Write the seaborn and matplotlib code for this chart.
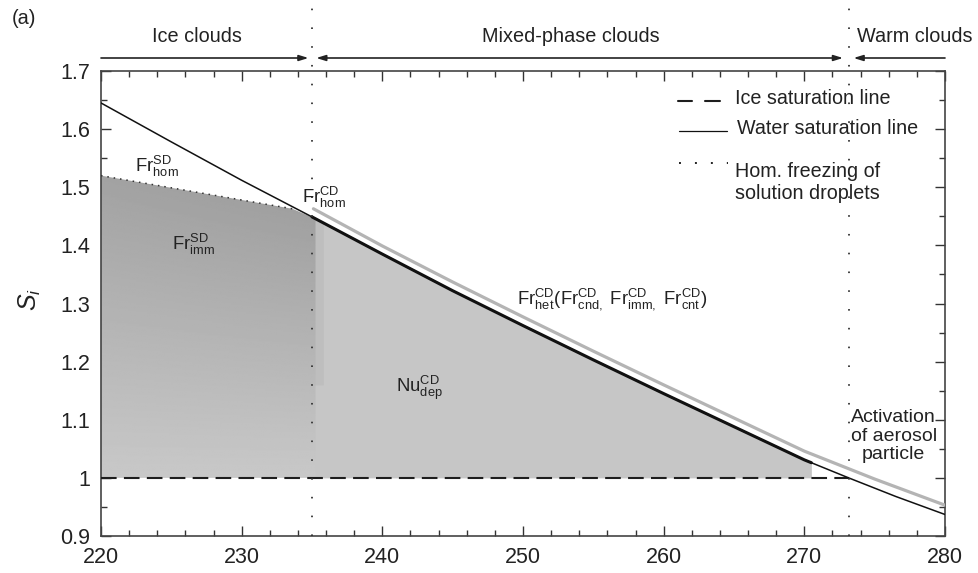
import numpy as np
import pandas as pd
import matplotlib
matplotlib.use("Agg")
import matplotlib.pyplot as plt
import seaborn as sns
from matplotlib.ticker import MultipleLocator, FuncFormatter
from matplotlib.patches import Polygon
from matplotlib.lines import Line2D

# ---------------- data ----------------
temp_water = [220, 225, 230, 235, 240, 245, 250, 255, 260, 265, 270, 273.15, 276.5, 280]
si_water = [1.645, 1.578, 1.512, 1.449, 1.385, 1.322, 1.262, 1.203, 1.145, 1.088, 1.031, 1.0, 0.968, 0.937]

temp_het = [235.1, 240, 245, 250, 255, 260, 265, 270, 275, 280]
si_het = [1.463, 1.399, 1.337, 1.277, 1.218, 1.160, 1.103, 1.046, 0.998, 0.953]

temp_hom = [220, 233.6]
si_hom = [1.52, 1.463]

temp_ice = [220, 273.15]
si_ice = [1.0, 1.0]

regime_bounds = [235, 273.15]
mixed_end = 270.5
regime_names = ["Ice clouds", "Mixed-phase clouds", "Warm clouds"]

x_ticks = [220, 230, 240, 250, 260, 270, 280]
y_ticks = [0.9, 1.0, 1.1, 1.2, 1.3, 1.4, 1.5, 1.6, 1.7]

legend_labels = ["Ice saturation line", "Water saturation line", "Hom. freezing of\nsolution droplets"]

# ---------------- style ----------------
sns.set_style("ticks")
plt.rcParams["font.family"] = ["Liberation Sans", "DejaVu Sans"]
plt.rcParams["mathtext.fontset"] = "custom"
plt.rcParams["mathtext.rm"] = "Liberation Sans"
plt.rcParams["mathtext.it"] = "Liberation Sans:italic"
plt.rcParams["mathtext.bf"] = "Liberation Sans:bold"

W, H = 979, 573
fig = plt.figure(figsize=(W / 100, H / 100), dpi=100)
L, R, T, B = 101, 945, 71, 536
ax = fig.add_axes([L / W, 1 - B / H, (R - L) / W, (B - T) / H])

ax.set_xlim(220, 280)
ax.set_ylim(0.9, 1.7)

# ---------------- shaded regions ----------------
mx = [regime_bounds[0]] + [t for t in temp_water if regime_bounds[0] < t < mixed_end] + [mixed_end]
my = list(np.interp(mx, temp_water, si_water))
ax.fill_between(mx, [1.0] * len(mx), my, color="#c6c6c6", lw=0, zorder=1)

xr = regime_bounds[0] + 0.25
wr = float(np.interp(xr, temp_water, si_water))
ice_poly = [(temp_ice[0], 1.0), (temp_hom[0], si_hom[0]), (temp_hom[1], si_hom[1]),
            (xr, wr), (xr, 1.0)]
poly = Polygon(ice_poly, closed=True, facecolor="none", edgecolor="none")
ax.add_patch(poly)
ny, nx = 200, 100
yy = np.linspace(1.52, 1.0, ny)[:, None]
xx = np.linspace(220, xr, nx)[None, :]
tv = (yy - 1.0) / 0.52
xv = (xx - 220) / 15.0
grad = 0.785 - 0.15 * tv - 0.03 * tv * xv
img = ax.imshow(grad, extent=[220, xr, 1.0, 1.52], cmap="gray", vmin=0, vmax=1,
                aspect="auto", origin="upper", zorder=1.2, interpolation="bilinear")
img.set_clip_path(poly)

# slight darker transition strip at the boundary
sx = [regime_bounds[0], regime_bounds[0] + 0.8]
sy = list(np.interp(sx, temp_water, si_water))
ax.fill_between(sx, [1.16, 1.16], sy, color="#bebebe", lw=0, zorder=1.1)

ax.set_xlim(220, 280)
ax.set_ylim(0.9, 1.7)

# ---------------- lines ----------------
sns.lineplot(x=temp_ice, y=si_ice, ax=ax, color="#1e1e1e", lw=1.5,
             linestyle=(0, (7.5, 3.5)), zorder=3)
sns.lineplot(x=temp_het, y=si_het, ax=ax, color="#b4b4b4", lw=2.3, zorder=3, sort=False)
sns.lineplot(x=temp_water, y=si_water, ax=ax, color="#111111", lw=1.1, zorder=4, sort=False)
thick_x = [regime_bounds[0]] + [t for t in temp_water if regime_bounds[0] < t < mixed_end] + [mixed_end]
thick_y = list(np.interp(thick_x, temp_water, si_water))
sns.lineplot(x=thick_x, y=thick_y, ax=ax, color="#111111", lw=2.2, zorder=4, sort=False)
sns.lineplot(x=temp_hom, y=si_hom, ax=ax, color="#333333", lw=1.1,
             linestyle=(0, (1, 3.2)), zorder=4)

# regime boundaries (dotted, extend above the axes)
for xb in regime_bounds:
    ax.axvline(xb, ymin=0, ymax=1.135, color="#333333", lw=1.3,
               linestyle=(0, (0.9, 9.5)), clip_on=False, zorder=5)

# ---------------- regime arrows and labels ----------------
xt = ax.get_xaxis_transform()
ya = (B - 58) / (B - T)
arrow_kw = dict(lw=1.2, color="#222222", shrinkA=0, shrinkB=0)
ax.annotate("", xy=(234.75, ya), xytext=(220, ya), xycoords=xt, textcoords=xt,
            arrowprops=dict(arrowstyle="-|>,head_length=0.55,head_width=0.17", **arrow_kw),
            annotation_clip=False)
ax.annotate("", xy=(272.75, ya), xytext=(235.3, ya), xycoords=xt, textcoords=xt,
            arrowprops=dict(arrowstyle="<|-|>,head_length=0.55,head_width=0.17", **arrow_kw),
            annotation_clip=False)
ax.annotate("", xy=(273.5, ya), xytext=(280, ya), xycoords=xt, textcoords=xt,
            arrowprops=dict(arrowstyle="-|>,head_length=0.55,head_width=0.17", **arrow_kw),
            annotation_clip=False)
yl = (B - 36) / (B - T)
ax.text(226.8, yl, regime_names[0], transform=xt, ha="center", va="center", fontsize=14.3, color="#222")
ax.text(253.4, yl, regime_names[1], transform=xt, ha="center", va="center", fontsize=14.3, color="#222")
ax.text(273.75, yl, regime_names[2], transform=xt, ha="left", va="center", fontsize=14.3, color="#222")

fig.text(12 / W, 1 - 19 / H, "(a)", ha="left", va="center", fontsize=14.3, color="#222")

# ---------------- annotations ----------------
fs_ann = 13.3
ax.text(222.4, 1.527, r"$\mathrm{Fr}^{\mathrm{SD}}_{\mathrm{hom}}$", fontsize=fs_ann, va="baseline", color="#222", zorder=6)
ax.text(225.05, 1.392, r"$\mathrm{Fr}^{\mathrm{SD}}_{\mathrm{imm}}$", fontsize=fs_ann, va="baseline", color="#222", zorder=6)
ax.text(234.3, 1.473, r"$\mathrm{Fr}^{\mathrm{CD}}_{\mathrm{hom}}$", fontsize=fs_ann, va="baseline", color="#222", zorder=6)
ax.text(249.6, 1.300,
        r"$\mathrm{Fr}^{\mathrm{CD}}_{\mathrm{het}}(\mathrm{Fr}^{\mathrm{CD}}_{\mathrm{cnd,}}\ \mathrm{Fr}^{\mathrm{CD}}_{\mathrm{imm,}}\ \mathrm{Fr}^{\mathrm{CD}}_{\mathrm{cnt}})$",
        fontsize=fs_ann, va="baseline", color="#222", zorder=6)
ax.text(241.0, 1.148, r"$\mathrm{Nu}^{\mathrm{CD}}_{\mathrm{dep}}$", fontsize=fs_ann, va="baseline", color="#222", zorder=6)
ax.text(276.36, 1.072, "Activation\nof aerosol\nparticle", ha="center", va="center",
        fontsize=14, linespacing=1.12, color="#222", zorder=6)

# ---------------- legend (drawn in axes coordinates) ----------------
def fx(px):
    return (px - L) / (R - L)

def fy(py):
    return (B - py) / (B - T)

ta = ax.transAxes
ax.add_line(Line2D([fx(678), fx(692)], [fy(101), fy(101)], transform=ta, color="#1e1e1e", lw=1.5))
ax.add_line(Line2D([fx(705), fx(720)], [fy(101), fy(101)], transform=ta, color="#1e1e1e", lw=1.5))
ax.add_line(Line2D([fx(679), fx(727)], [fy(131), fy(131)], transform=ta, color="#111111", lw=0.9))
ax.add_line(Line2D([fx(679), fx(728)], [fy(163), fy(163)], transform=ta, color="#222222", lw=1.4,
                   linestyle=(0, (1, 7.2))))
ax.text(fx(735), fy(98), legend_labels[0], transform=ta, ha="left", va="center", fontsize=14.2, color="#222")
ax.text(fx(737), fy(129), legend_labels[1], transform=ta, ha="left", va="center", fontsize=14.2, color="#222")
ax.text(fx(735), fy(162), legend_labels[2], transform=ta, ha="left", va="top", fontsize=14.2,
        color="#222", linespacing=1.22)

# ---------------- axes styling ----------------
ax.set_xticks(x_ticks)
ax.set_yticks(y_ticks)
ax.xaxis.set_minor_locator(MultipleLocator(2))
ax.yaxis.set_minor_locator(MultipleLocator(0.05))
ax.yaxis.set_major_formatter(FuncFormatter(lambda v, p: f"{v:g}"))
ax.tick_params(which="both", direction="in", top=True, right=True, color="#333333", width=1.0)
ax.tick_params(which="major", length=7.5, labelsize=15.5, labelcolor="#222")
ax.tick_params(which="minor", length=4)
ax.tick_params(axis="x", which="major", pad=8)
ax.tick_params(axis="y", which="major", pad=8)
for s in ax.spines.values():
    s.set_visible(True)
    s.set_color("#444444")
    s.set_linewidth(1.2)
ax.set_xlabel("")
ax.set_ylabel("")
fig.text(30 / W, 1 - 300 / H, r"$S_i$", rotation=90, ha="center", va="center", fontsize=18, color="#222")

fig.savefig("out.png", dpi=100)
